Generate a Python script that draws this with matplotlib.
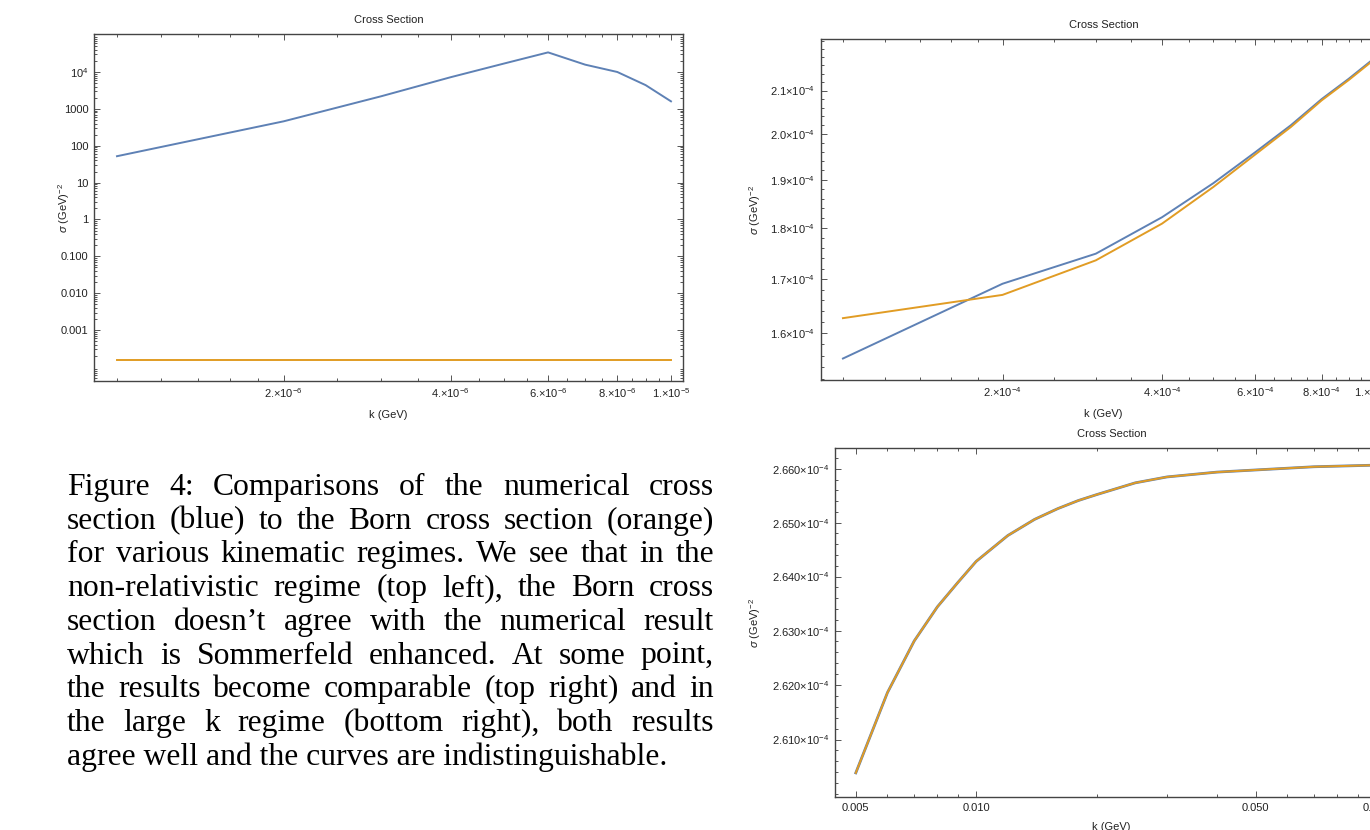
import matplotlib
matplotlib.use('Agg')
import matplotlib.pyplot as plt
from matplotlib.ticker import FixedLocator, FixedFormatter, NullFormatter

# --- data ---
# top left: non-relativistic regime
k_nr = [1.0e-6, 2.0e-6, 3.0e-6, 4.0e-6, 5.0e-6, 6.0e-6, 7.0e-6, 8.0e-6, 9.0e-6, 1.0e-5]
num_nr = [52, 460, 2200, 7200, 17000, 34000, 15800, 10000, 4400, 1600]
born_nr = [1.58e-4, 1.58e-4, 1.58e-4, 1.58e-4, 1.58e-4, 1.58e-4, 1.58e-4, 1.58e-4, 1.58e-4, 1.58e-4]

# top right: intermediate regime
k_mid = [1.0e-4, 2.0e-4, 3.0e-4, 4.0e-4, 5.0e-4, 6.0e-4, 7.0e-4, 8.0e-4, 9.0e-4, 1.0e-3]
num_mid = [1.555e-4, 1.691e-4, 1.749e-4, 1.822e-4, 1.893e-4, 1.960e-4, 2.020e-4, 2.080e-4, 2.128e-4, 2.175e-4]
born_mid = [1.627e-4, 1.670e-4, 1.736e-4, 1.809e-4, 1.885e-4, 1.955e-4, 2.016e-4, 2.077e-4, 2.125e-4, 2.172e-4]

# bottom right: large k regime (curves coincide)
k_big = [0.005, 0.006, 0.007, 0.008, 0.009, 0.010, 0.012, 0.014, 0.016, 0.018,
         0.020, 0.025, 0.030, 0.040, 0.050, 0.070, 0.100]
num_big = [2.6039e-4, 2.6186e-4, 2.6281e-4, 2.6344e-4, 2.6389e-4, 2.6428e-4, 2.6476e-4,
           2.6506e-4, 2.6526e-4, 2.6541e-4, 2.6552e-4, 2.6574e-4, 2.6585e-4, 2.6594e-4,
           2.6598e-4, 2.6604e-4, 2.6607e-4]
born_big = num_big

caption = [
    "Figure 4: Comparisons of the numerical cross",
    "section (blue) to the Born cross section (orange)",
    "for various kinematic regimes. We see that in the",
    "non-relativistic regime (top left), the Born cross",
    "section doesn\u2019t agree with the numerical result",
    "which is Sommerfeld enhanced. At some point,",
    "the results become comparable (top right) and in",
    "the large k regime (bottom right), both results",
    "agree well and the curves are indistinguishable.",
]

BLUE = '#5E81B5'
ORANGE = '#E19C24'

plt.rcParams['font.family'] = ['Liberation Sans', 'DejaVu Sans']
plt.rcParams['mathtext.fontset'] = 'custom'
plt.rcParams['mathtext.rm'] = 'Liberation Sans'
plt.rcParams['mathtext.it'] = 'Liberation Sans:italic'
plt.rcParams['mathtext.bf'] = 'Liberation Sans:bold'

W, H = 1370, 830
fig = plt.figure(figsize=(W / 100, H / 100), dpi=100)
FS = 8.0


def box(l, t, r, b):
    return [l / W, 1 - b / H, (r - l) / W, (b - t) / H]


def sci(m, e):
    return m + r'${\times}10^{%d}$' % e


def style(ax, xmaj, xlab, xmin, ymaj, ylab, ymin, xlim, ylim, ylab_x):
    ax.set_xscale('log')
    ax.set_yscale('log')
    ax.set_xlim(*xlim)
    ax.set_ylim(*ylim)
    ax.xaxis.set_major_locator(FixedLocator(xmaj))
    ax.xaxis.set_major_formatter(FixedFormatter(xlab))
    ax.xaxis.set_minor_locator(FixedLocator(xmin))
    ax.xaxis.set_minor_formatter(NullFormatter())
    ax.yaxis.set_major_locator(FixedLocator(ymaj))
    ax.yaxis.set_major_formatter(FixedFormatter(ylab))
    ax.yaxis.set_minor_locator(FixedLocator(ymin))
    ax.yaxis.set_minor_formatter(NullFormatter())
    ax.tick_params(which='both', direction='in', top=True, right=True,
                   color='#555555', width=0.7, labelsize=FS, labelcolor='#222222')
    ax.tick_params(which='major', length=4.5, pad=4)
    ax.tick_params(which='minor', length=2.5)
    for s in ax.spines.values():
        s.set_color('#444444')
        s.set_linewidth(1.0)
    ax.set_title('Cross Section', fontsize=FS, color='#222222', pad=8)
    ax.set_xlabel('k (GeV)', fontsize=FS, color='#222222', labelpad=7)
    ax.set_ylabel(r'$\sigma$ (GeV)$^{-2}$', fontsize=FS, color='#222222')
    ax.yaxis.set_label_coords(ylab_x, 0.5)


mt = [1.2, 1.4, 1.6, 1.8, 2.5, 3, 3.5, 4.5, 5, 5.5, 6.5, 7, 7.5, 8.5, 9, 9.5]

# --- top left ---
ax1 = fig.add_axes(box(94, 34, 683, 381))
ax1.plot(k_nr, num_nr, color=BLUE, lw=1.4)
ax1.plot(k_nr, born_nr, color=ORANGE, lw=1.4)
minor_y1 = [m * 10.0 ** e for e in range(-5, 6) for m in range(2, 10)]
style(ax1,
      [2e-6, 4e-6, 6e-6, 8e-6, 1e-5],
      [sci('2.', -6), sci('4.', -6), sci('6.', -6), sci('8.', -6), sci('1.', -5)],
      [1e-6] + [m * 1e-6 for m in mt],
      [1e-3, 1e-2, 1e-1, 1, 10, 100, 1000, 1e4],
      ['0.001', '0.010', '0.100', '1', '10', '100', '1000', r'$10^{4}$'],
      minor_y1,
      (1e-6 * 10 ** -0.0415, 1e-5 * 10 ** 0.0217),
      (10 ** -4.38, 10 ** 5.03),
      -22 / 589)

# --- top right ---
ax2 = fig.add_axes(box(821, 39, 1386, 380))
ax2.plot(k_mid, num_mid, color=BLUE, lw=1.4)
ax2.plot(k_mid, born_mid, color=ORANGE, lw=1.4)
style(ax2,
      [2e-4, 4e-4, 6e-4, 8e-4, 1e-3],
      [sci('2.', -4), sci('4.', -4), sci('6.', -4), sci('8.', -4), sci('1.', -3)],
      [1e-4] + [m * 1e-4 for m in mt],
      [1.6e-4, 1.7e-4, 1.8e-4, 1.9e-4, 2.0e-4, 2.1e-4],
      [sci('1.6', -4), sci('1.7', -4), sci('1.8', -4), sci('1.9', -4), sci('2.0', -4), sci('2.1', -4)],
      [(152 + 2 * i) * 1e-6 for i in range(37)],
      (1e-4 * 10 ** -0.0414, 1e-3 * 10 ** 0.0245),
      (1.518e-4, 2.225e-4),
      -58 / 565)

# --- bottom right ---
ax3 = fig.add_axes(box(835, 448, 1388, 797))
ax3.plot(k_big, num_big, color=BLUE, lw=2.0)
ax3.plot(k_big, born_big, color=ORANGE, lw=1.4)
style(ax3,
      [0.005, 0.01, 0.05, 0.1],
      ['0.005', '0.010', '0.050', '0.100'],
      [0.006, 0.007, 0.008, 0.009, 0.02, 0.03, 0.04, 0.06, 0.07, 0.08, 0.09],
      [2.61e-4, 2.62e-4, 2.63e-4, 2.64e-4, 2.65e-4, 2.66e-4],
      [sci('2.610', -4), sci('2.620', -4), sci('2.630', -4), sci('2.640', -4),
       sci('2.650', -4), sci('2.660', -4)],
      [(2.600 + 0.002 * i) * 1e-4 for i in range(33)],
      (0.005 * 10 ** -0.052, 0.1 * 10 ** 0.03),
      (2.5995e-4, 2.6639e-4),
      -72 / 553)

# --- caption, justified ---
renderer = fig.canvas.get_renderer()


def text_w(s, fs):
    t = fig.text(0, 0, s, fontsize=fs, family='Liberation Serif')
    w = t.get_window_extent(renderer).width
    t.remove()
    return w


fs = 21.6
fs = fs * 601 / text_w(caption[-1], fs)
left, right = 67, 714
for i, line in enumerate(caption):
    yb = 1 - (495 + i * 33.7) / H
    if i == len(caption) - 1:
        fig.text(left / W, yb, line, fontsize=fs, family='Liberation Serif',
                 va='baseline', ha='left', color='black')
        continue
    words = line.split(' ')
    widths = [text_w(w, fs) for w in words]
    gap = (right - left - sum(widths)) / (len(words) - 1)
    x = left
    for w, wd in zip(words, widths):
        fig.text(x / W, yb, w, fontsize=fs, family='Liberation Serif',
                 va='baseline', ha='left', color='black')
        x += wd + gap

fig.savefig('out.png', dpi=100)
